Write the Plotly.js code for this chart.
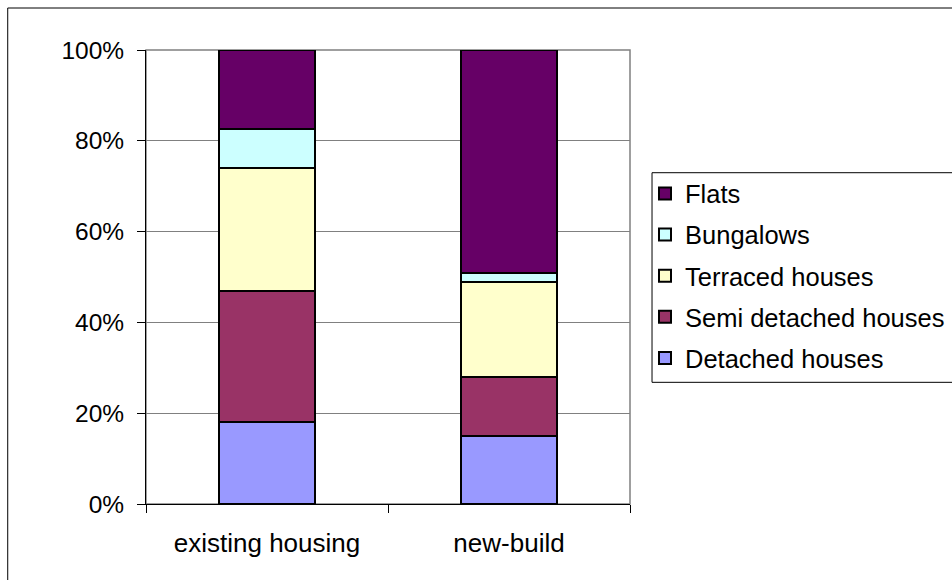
<!DOCTYPE html>
<html>
<head>
<meta charset="utf-8">
<script src="https://cdn.plot.ly/plotly-3.0.1.min.js"></script>
<style>
  html, body { margin: 0; padding: 0; background: #ffffff; overflow: hidden; }
  #chart { width: 1000px; height: 580px; }
</style>
</head>
<body>
<div id="chart"></div>
<script>
// Dwelling type shares (%) for existing stock vs new-build
const categories = ['existing housing', 'new-build'];
const seriesNames = ['Detached houses', 'Semi detached houses', 'Terraced houses', 'Bungalows', 'Flats'];
const detached = [18, 15];
const semiDetached = [29, 13];
const terraced = [27, 20.8];
const bungalows = [8.6, 2.1];
const flats = [17.4, 49.1];
const seriesColors = ['#9999FF', '#993366', '#FFFFCC', '#CCFFFF', '#660066'];
const yTickValues = [0, 20, 40, 60, 80, 100];
const yTickLabels = yTickValues.map(v => v + '%');

const seriesValues = [detached, semiDetached, terraced, bungalows, flats];

// Stack bottom-to-top in series order; legend lists the top segment first.
const traces = seriesNames.map((name, i) => ({
  type: 'bar',
  name: name,
  x: categories,
  y: seriesValues[i],
  legendgroup: 'g' + i,
  legendrank: seriesNames.length - i,
  marker: { color: seriesColors[i], line: { color: '#000000', width: 2 } },
  hoverinfo: 'x+y+name'
}));

const family = 'Liberation Sans, Arial, sans-serif';

// The figure is a little wider than the window so the legend box and
// the outer frame run off the right edge.
const layout = {
  width: 1000,
  height: 580,
  margin: { l: 146, r: 370, t: 50, b: 76, pad: 0 },
  paper_bgcolor: '#ffffff',
  plot_bgcolor: '#ffffff',
  font: { family: family, size: 26, color: '#000000' },
  barmode: 'stack',
  bargap: 0.6,
  showlegend: true,
  legend: {
    x: 1.031, xanchor: 'left',
    y: 0.735, yanchor: 'top',
    traceorder: 'grouped',
    tracegroupgap: 5,
    borderwidth: 0,
    bgcolor: 'rgba(0,0,0,0)',
    font: { family: family, size: 25.5, color: '#000000' }
  },
  xaxis: {
    type: 'category',
    showline: true,
    linecolor: '#000000',
    linewidth: 1,
    ticks: 'outside',
    tickson: 'boundaries',
    ticklen: 8,
    tickcolor: '#000000',
    ticklabelstandoff: 16,
    showgrid: false,
    zeroline: false,
    tickfont: { family: family, size: 26, color: '#000000' }
  },
  yaxis: {
    range: [0, 100],
    tickmode: 'array',
    tickvals: yTickValues,
    ticktext: yTickLabels,
    showline: true,
    linecolor: '#000000',
    linewidth: 1,
    ticks: 'outside',
    ticklen: 8,
    tickcolor: '#000000',
    ticklabelstandoff: 8,
    showgrid: true,
    gridcolor: '#808080',
    gridwidth: 1,
    zeroline: false,
    tickfont: { family: family, size: 24.5, color: '#000000' }
  },
  shapes: [
    // plot-area border
    { type: 'rect', xref: 'paper', yref: 'paper', x0: 0, x1: 1, y0: 0, y1: 1,
      line: { color: '#808080', width: 1.5 }, layer: 'below' },
    // outer chart frame
    { type: 'rect', xref: 'paper', yref: 'paper',
      x0: -0.2857, x1: 1.80, y0: -0.25, y1: 1.0925,
      line: { color: '#000000', width: 1 }, layer: 'below' },
    // legend box
    { type: 'rect', xref: 'paper', yref: 'paper',
      x0: 1.0455, x1: 1.75, y0: 0.268, y1: 0.7297,
      line: { color: '#000000', width: 1 }, fillcolor: 'rgba(0,0,0,0)', layer: 'above' }
  ]
};

Plotly.newPlot('chart', traces, layout, { staticPlot: true, displayModeBar: false });
</script>
</body>
</html>
